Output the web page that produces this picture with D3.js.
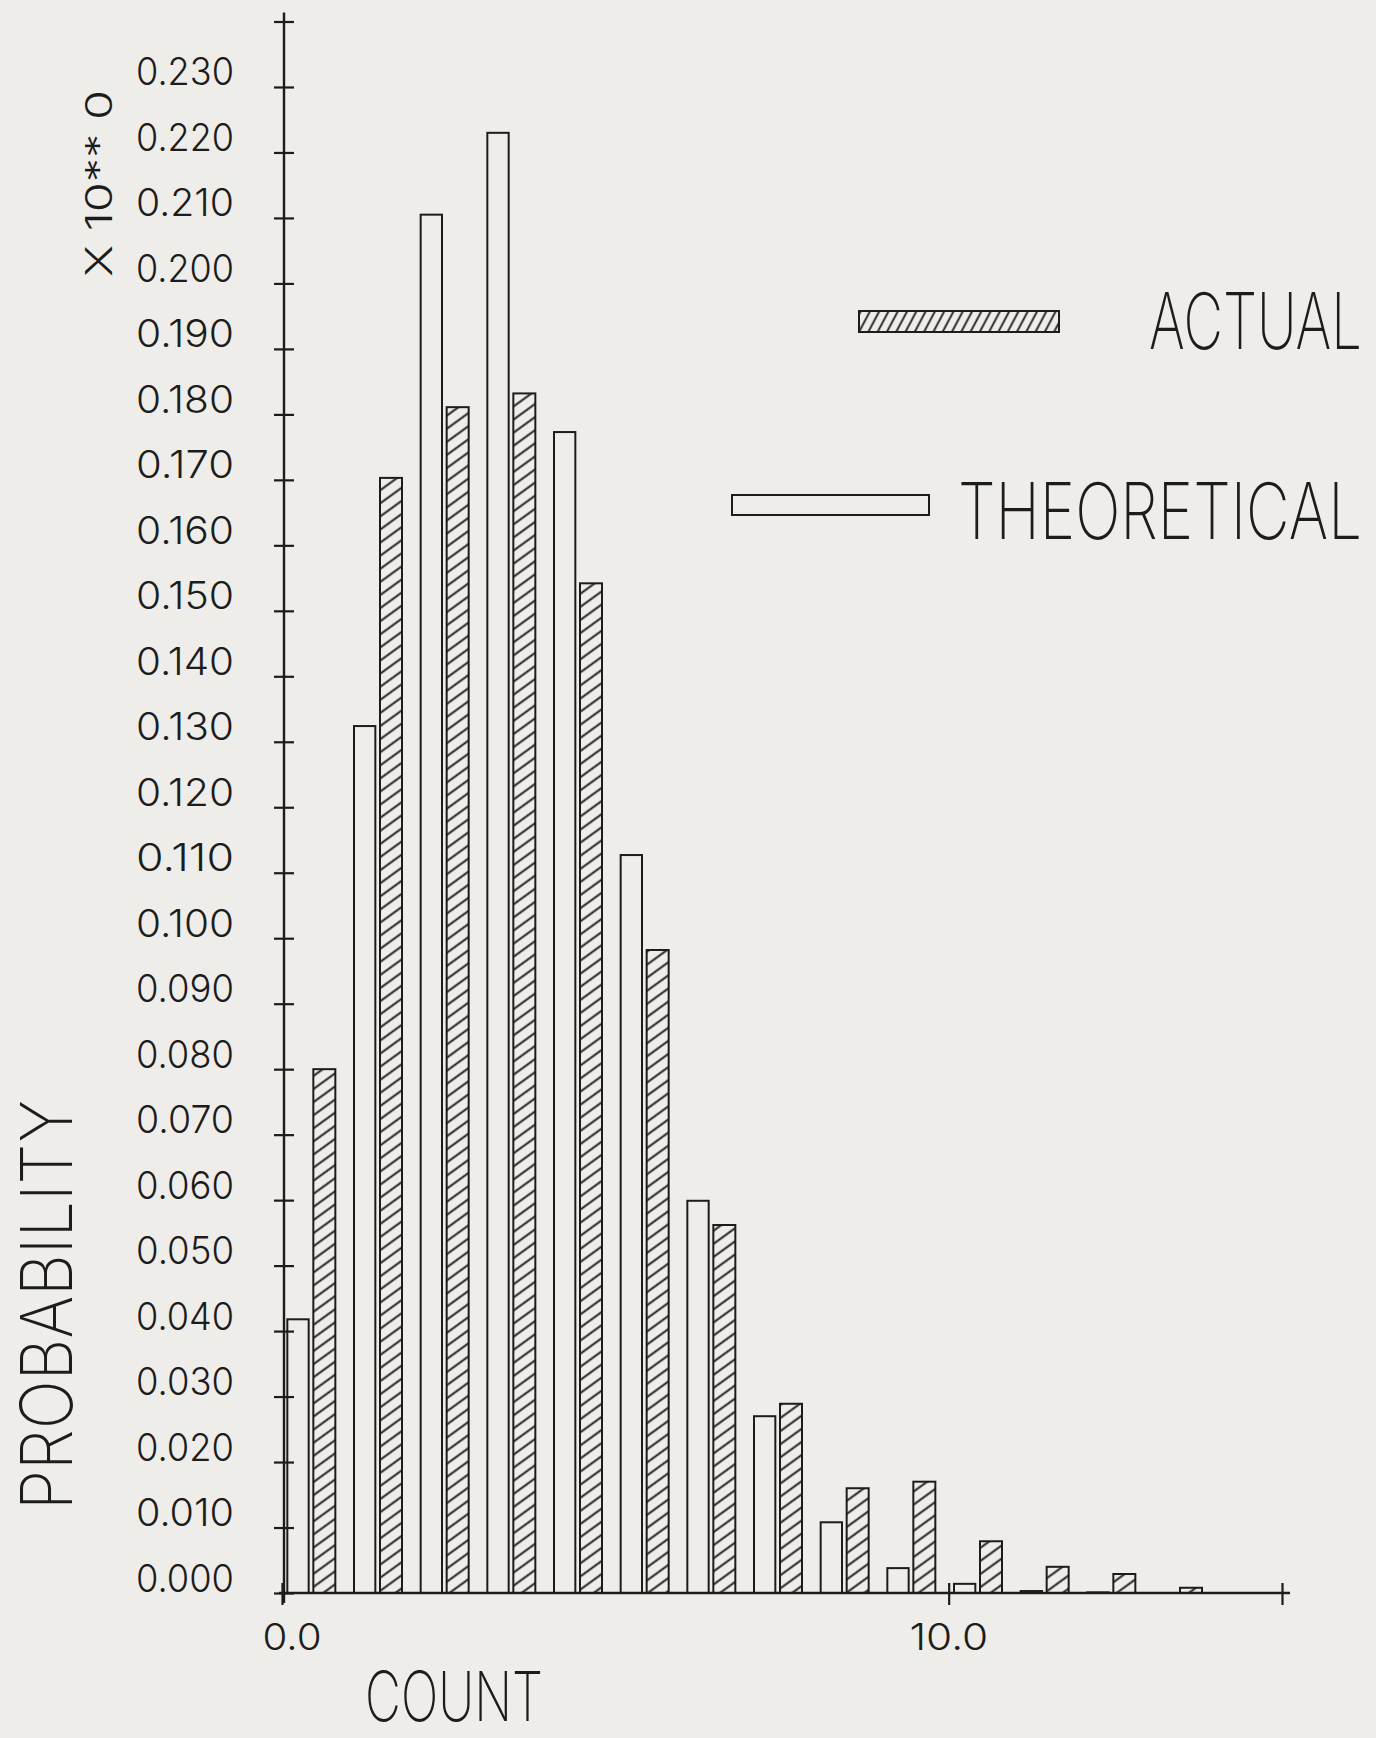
<!DOCTYPE html>
<html>
<head>
<meta charset="utf-8">
<script src="https://cdn.jsdelivr.net/npm/d3@7"></script>
<style>
  html, body { margin: 0; padding: 0; background: #efedea; }
  svg { display: block; }
  text { font-family: Inter, "DejaVu Sans", sans-serif; fill: #1c1c1c; }
</style>
</head>
<body>
<script>
// ---- data ----
const counts = [0, 1, 2, 3, 4, 5, 6, 7, 8, 9, 10, 11, 12, 13];
const theoretical = [0.0418, 0.1324, 0.2105, 0.2230, 0.1773, 0.1127, 0.0599, 0.0270, 0.0108, 0.0038, 0.0014, 0.0003, 0.0001, 0.0000];
const actual      = [0.0800, 0.1703, 0.1811, 0.1832, 0.1542, 0.0982, 0.0562, 0.0289, 0.0160, 0.0170, 0.0079, 0.0040, 0.0029, 0.0008];
const yTickValues = d3.range(0, 25).map(i => i / 100);          // 0.00 .. 0.24
const yTickLabels = yTickValues.map(v => v <= 0.2305 ? d3.format(".3f")(v) : "");
const xTickValues = [0, 10, 15];
const xTickLabels = ["0.0", "10.0", ""];
const seriesNames = ["ACTUAL", "THEORETICAL"];
const yAxisTitle = "PROBABILITY";
const xAxisTitle = "COUNT";
const scaleNote = "X 10** 0";

// ---- layout ----
const W = 1376, H = 1738;
const INK = "#1c1c1c";
const svg = d3.select("body").append("svg").attr("width", W).attr("height", H);
svg.append("rect").attr("width", W).attr("height", H).attr("fill", "#efedea");

const x = d3.scaleLinear().domain([0, 15]).range([282, 1282]);
const y = d3.scaleLinear().domain([0, 0.24]).range([1593, 21.5]);

// fit a text element to a given width by horizontal scaling
function fit(sel, tx, ty, width, rot) {
  sel.each(function() {
    const t = d3.select(this);
    if (!t.text()) return;
    const w = this.getComputedTextLength();
    const sx = width / w;
    t.attr("x", 0).attr("y", 0).attr("dy", null)
     .attr("transform", `translate(${tx},${ty})${rot ? ` rotate(${rot})` : ""} scale(${sx},1)`);
  });
}

const defs = svg.append("defs");
const hatch = defs.append("pattern").attr("id", "hatch")
  .attr("patternUnits", "userSpaceOnUse").attr("width", 30).attr("height", 10.6)
  .attr("patternTransform", "rotate(-36)");
hatch.append("line").attr("x1", -2).attr("x2", 32).attr("y1", 5.3).attr("y2", 5.3)
  .attr("stroke", INK).attr("stroke-width", 1.7);
const hatchL = defs.append("pattern").attr("id", "hatchL")
  .attr("patternUnits", "userSpaceOnUse").attr("width", 30).attr("height", 8.2)
  .attr("patternTransform", "rotate(-62)");
hatchL.append("line").attr("x1", -2).attr("x2", 32).attr("y1", 4.1).attr("y2", 4.1)
  .attr("stroke", INK).attr("stroke-width", 1.7);

// ---- bars ----
const g = svg.append("g");
g.selectAll("rect.theo").data(counts.filter((c, i) => theoretical[i] > 0)).join("rect")
  .attr("class", "theo")
  .attr("x", c => x(c + 0.08))
  .attr("width", c => x(c + 0.40) - x(c + 0.08))
  .attr("y", c => y(theoretical[c]))
  .attr("height", c => y(0) - y(theoretical[c]))
  .attr("fill", "none").attr("stroke", INK).attr("stroke-width", 2);

g.selectAll("rect.act").data(counts.filter((c, i) => actual[i] > 0)).join("rect")
  .attr("class", "act")
  .attr("x", c => x(c + 0.47))
  .attr("width", c => x(c + 0.80) - x(c + 0.47))
  .attr("y", c => y(actual[c]))
  .attr("height", c => y(0) - y(actual[c]))
  .attr("fill", "url(#hatch)").attr("stroke", INK).attr("stroke-width", 2);

// ---- y axis ----
const yAxis = d3.axisLeft(y).tickValues(yTickValues).tickSizeOuter(0).tickSize(10)
  .tickFormat((d, i) => yTickLabels[i]);
const y0x = x(0) + 2;
const ya = svg.append("g").attr("transform", `translate(${y0x},0)`).call(yAxis);
ya.select(".domain").remove();
ya.attr("font-family", null).attr("font-size", null);
ya.selectAll(".tick line").attr("x1", -10).attr("x2", 10).attr("stroke", INK).attr("stroke-width", 2.2);
ya.selectAll(".tick text")
  .attr("text-anchor", "end").attr("font-size", 38.5).attr("font-weight", 300)
  .attr("fill", INK)
  .call(fit, 234 - y0x, -2, 98, 0);

svg.append("line").attr("x1", y0x).attr("x2", y0x)
  .attr("y1", y(0.24) - 9).attr("y2", y(0) + 10)
  .attr("stroke", INK).attr("stroke-width", 2.4);

// ---- x axis ----
const xAxis = d3.axisBottom(x).tickValues(xTickValues).tickSizeOuter(0).tickSize(10)
  .tickFormat((d, i) => xTickLabels[i]);
const xa = svg.append("g").attr("transform", `translate(0,${y(0)})`).call(xAxis);
xa.select(".domain").remove();
xa.attr("font-family", null).attr("font-size", null);
xa.selectAll(".tick line").attr("y1", -10).attr("y2", 12).attr("stroke", INK).attr("stroke-width", 2.2);
xa.selectAll(".tick text")
  .attr("text-anchor", "end").attr("font-size", 37).attr("font-weight", 300)
  .attr("fill", INK)
  .each(function(d, i) {
    if (xTickLabels[i]) d3.select(this).call(fit, 39, 1650 - y(0), xTickLabels[i].length * 19.7, 0);
  });
svg.append("line").attr("x1", x(0) - 3).attr("x2", x(15) + 8)
  .attr("y1", y(0)).attr("y2", y(0))
  .attr("stroke", INK).attr("stroke-width", 2.4);

// ---- titles ----
svg.append("text").text(xAxisTitle)
  .attr("text-anchor", "middle").attr("font-size", 69).attr("font-weight", 200)
  .call(fit, 454, 1721, 178, 0);

svg.append("text").text(yAxisTitle)
  .attr("text-anchor", "middle").attr("font-size", 72).attr("font-weight", 200)
  .call(fit, 72, 1305, 410, -90);

svg.append("text").text(scaleNote)
  .attr("text-anchor", "middle").attr("font-size", 37).attr("font-weight", 300)
  .call(fit, 112, 183.5, 187, -90);

// ---- legend ----
svg.append("rect").attr("x", 859).attr("y", 311).attr("width", 200).attr("height", 21)
  .attr("fill", "url(#hatchL)").attr("stroke", INK).attr("stroke-width", 2);
svg.append("text").text(seriesNames[0])
  .attr("text-anchor", "start").attr("font-size", 78).attr("font-weight", 200)
  .call(fit, 1149, 349, 213, 0);

svg.append("rect").attr("x", 732).attr("y", 495).attr("width", 197).attr("height", 20)
  .attr("fill", "none").attr("stroke", INK).attr("stroke-width", 2);
svg.append("text").text(seriesNames[1])
  .attr("text-anchor", "start").attr("font-size", 78).attr("font-weight", 200)
  .call(fit, 958, 539, 404, 0);
</script>
</body>
</html>
